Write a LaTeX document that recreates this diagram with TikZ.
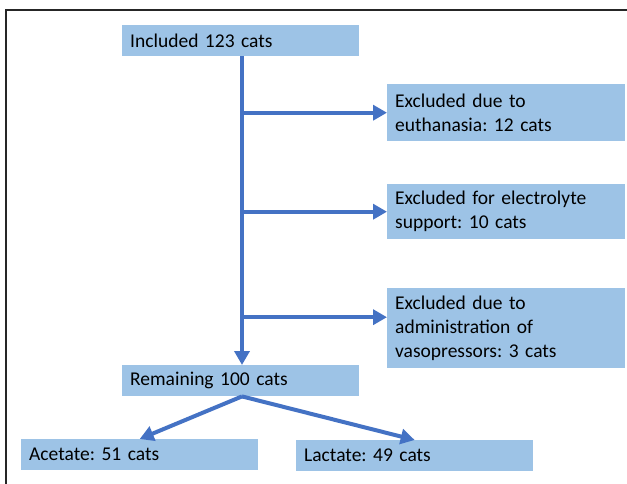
\documentclass[tikz,border=0pt]{standalone}
\usepackage{fontspec}
\setmainfont{Carlito}
\usepackage{xcolor}
\definecolor{boxblue}{RGB}{157, 195, 230}
\definecolor{linkblue}{RGB}{68, 114, 196}
\usepackage{tikz}
\usetikzlibrary{arrows.meta,positioning,calc}
\frenchspacing

\begin{document}
\begin{tikzpicture}[
  x=1pt, y=-1pt,
  flowbox/.style={fill=boxblue, anchor=north west, align=left, inner xsep=8pt, inner ysep=0pt, font=\fontsize{19.5}{24}\selectfont, text width=221pt, minimum height=31pt},
  exbox/.style={flowbox, text width=222pt},
  flowarrow/.style={-{Triangle[length=14pt,width=15pt]}, line width=4pt, color=linkblue}
]
\useasboundingbox (0,0) rectangle (627,484);
\draw[line width=1.2pt, black!85] (6,484) -- (6,10) -- (627,10);

\node[flowbox] (incl) at (122,25) {Included 123 cats};
\node[exbox, minimum height=57pt] (ex1) at (387,84) {Excluded due to\\euthanasia: 12 cats};
\node[exbox, minimum height=55pt] (ex2) at (387,184) {Excluded for electrolyte\\support: 10 cats};
\node[exbox, minimum height=80pt] (ex3) at (387,288) {Excluded due to\\administration of\\vasopressors: 3 cats};
\node[flowbox] (rem) at (122,365) {Remaining 100 cats};
\node[flowbox] (acet) at (21,439) {Acetate: 51 cats};
\node[flowbox] (lact) at (296,440) {Lactate: 49 cats};

\coordinate (spine) at (242,0);
\coordinate (ex3in) at ([yshift=11pt]ex3.west);

\draw[flowarrow] (incl.south -| spine) -- (rem.north -| spine);
\draw[flowarrow] (spine |- ex1.west) -- (ex1.west);
\draw[flowarrow] (spine |- ex2.west) -- (ex2.west);
\draw[flowarrow] (spine |- ex3in) -- (ex3in);
\draw[flowarrow] (rem.south -| spine) -- (acet.north);
\draw[flowarrow] (rem.south -| spine) -- (lact.north);
\end{tikzpicture}
\end{document}
